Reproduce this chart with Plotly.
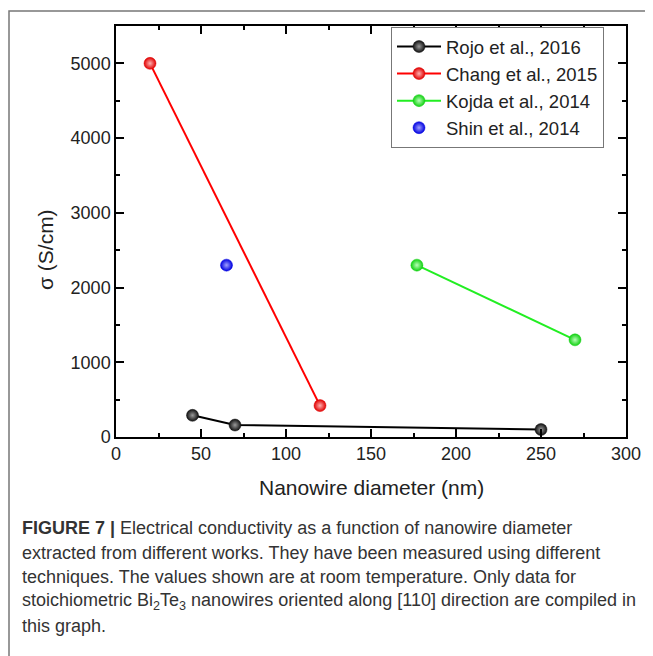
import plotly.graph_objects as go

# ---- data ----
rojo_x = [45, 70, 250]
rojo_y = [290, 160, 100]
chang_x = [20, 120]
chang_y = [5000, 420]
kojda_x = [177, 270]
kojda_y = [2300, 1300]
shin_x = [65]
shin_y = [2300]

series_names = ["Rojo et al., 2016", "Chang et al., 2015", "Kojda et al., 2014", "Shin et al., 2014"]
x_ticks = [0, 50, 100, 150, 200, 250, 300]
y_ticks = [0, 1000, 2000, 3000, 4000, 5000]

caption_lines = [
    "<b>FIGURE 7 |</b> Electrical conductivity as a function of nanowire diameter",
    "extracted from different works. They have been measured using different",
    "techniques. The values shown are at room temperature. Only data for",
    "stoichiometric Bi<sub>2</sub>Te<sub>3</sub> nanowires oriented along [110] direction are compiled in",
    "this graph.",
]

FONT = "Liberation Sans, Arial, sans-serif"
OFF = 8  # page body margin
W, H = 653 - OFF, 656 - OFF
L, R, T, B = 116 - OFF, 27, 26 - OFF, 219
PW, PH = W - L - R, H - T - B


def px2x(px):
    return (px - OFF - L) / PW


def py2y(py):
    return (H - B - (py - OFF)) / PH


def sphere(color, light):
    return dict(size=12, color=color, line=dict(width=0.5, color=color),
                gradient=dict(type="radial", color=light))


fig = go.Figure()
fig.add_trace(go.Scatter(x=rojo_x, y=rojo_y, mode="lines+markers", name=series_names[0],
                         line=dict(color="black", width=2), marker=sphere("#111111", "#9a9a9a")))
fig.add_trace(go.Scatter(x=chang_x, y=chang_y, mode="lines+markers", name=series_names[1],
                         line=dict(color="#ff0000", width=2), marker=sphere("#e00000", "#ffb0b0")))
fig.add_trace(go.Scatter(x=kojda_x, y=kojda_y, mode="lines+markers", name=series_names[2],
                         line=dict(color="#22ee22", width=2), marker=sphere("#10d010", "#b8ffb8")))
fig.add_trace(go.Scatter(x=shin_x, y=shin_y, mode="markers", name=series_names[3],
                         marker=sphere("#0000e0", "#a0a0ff")))

axis_common = dict(
    showgrid=False, zeroline=False, showline=True, linecolor="black", linewidth=1.5,
    mirror="ticks", ticks="inside", ticklen=8, tickwidth=1.5, tickcolor="black",
    tickfont=dict(family=FONT, size=18, color="#222222"),
)
fig.update_xaxes(range=[0, 300], tickvals=x_ticks,
                 minor=dict(ticks="inside", ticklen=4, tickwidth=1.5, tickcolor="black", dtick=25),
                 **axis_common)
fig.update_yaxes(range=[0, 5500], tickvals=y_ticks,
                 minor=dict(ticks="inside", ticklen=4, tickwidth=1.5, tickcolor="black", dtick=500),
                 **axis_common)

annotations = [
    dict(text="Nanowire diameter (nm)", x=px2x(371), y=py2y(487), xref="paper", yref="paper",
         showarrow=False, font=dict(family=FONT, size=21, color="#222222"),
         xanchor="center", yanchor="middle"),
    dict(text="σ (S/cm)", x=px2x(45), y=py2y(250), xref="paper", yref="paper",
         showarrow=False, textangle=-90, font=dict(family=FONT, size=21, color="#222222"),
         xanchor="center", yanchor="middle"),
]
for i, line in enumerate(caption_lines):
    annotations.append(dict(text=line, x=px2x(20), y=py2y(528 + 24.6 * i), xref="paper", yref="paper",
                            showarrow=False, font=dict(family=FONT, size=18, color="#333333"),
                            xanchor="left", yanchor="middle", align="left"))

fig.update_layout(
    width=W, height=H,
    margin=dict(l=L, r=R, t=T, b=B, pad=0),
    paper_bgcolor="white", plot_bgcolor="white",
    font=dict(family=FONT, color="#222222"),
    showlegend=True,
    legend=dict(x=px2x(604), y=py2y(27), xanchor="right", yanchor="top",
                bgcolor="white", bordercolor="#777777", borderwidth=1,
                font=dict(family=FONT, size=18.5, color="#222222"),
                itemwidth=44, tracegroupgap=0),
    annotations=annotations,
    shapes=[dict(type="rect", xref="paper", yref="paper",
                 x0=px2x(9), x1=px2x(680), y0=py2y(680), y1=py2y(11),
                 line=dict(color="#777777", width=1.5), fillcolor="rgba(0,0,0,0)", layer="below")],
)

fig.write_html("out.html")
